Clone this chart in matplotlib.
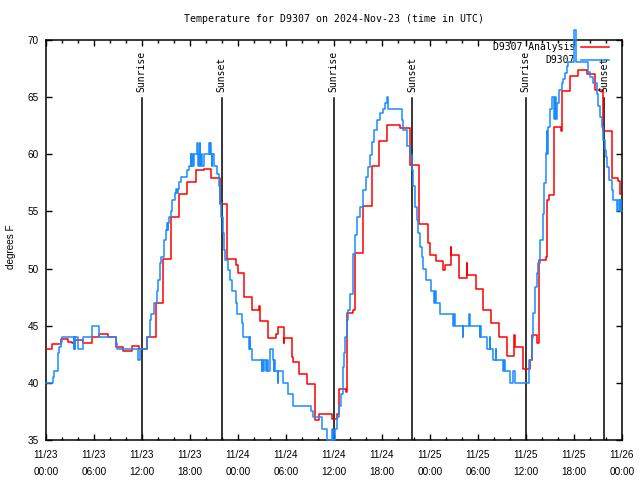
import numpy as np
import matplotlib
matplotlib.use("Agg")
import matplotlib.pyplot as plt

# ---- data (hours since 2024-11-23 00:00 UTC) ----
red_t = [0, 0.75, 1.83, 2.8, 3.3, 3.55, 4.67, 5.71, 6.63, 7.79, 8.75, 9.67, 10.7, 11.6,
         12.67, 13.7, 13.8, 14.67, 15.67, 16.67, 17.67, 18.75, 19.75, 20.58, 21.7, 22.67,
         23.7, 24.04, 24.75, 25.7, 25.8, 26.6, 26.75, 27.7, 28.75, 29.0, 29.7, 29.8, 30.75,
         30.85, 31.6, 32.6, 33.6, 34.17, 35.7, 36.33, 36.6, 37.5, 37.58, 38.4, 38.625, 39.67,
         40.7, 41.67, 42.6, 44.25, 45.5, 46.67, 47.75, 47.95, 48.75, 49.67, 49.875, 50.58,
         50.65, 51.67, 52.58, 52.65, 53.75, 54.58, 55.67, 56.67, 57.58, 58.55, 58.62, 59.58,
         60.5, 60.7, 61.4, 61.67, 62.5, 62.67, 62.9, 63.54, 64.4, 64.54, 65.5, 66.5, 67.6,
         68.6, 69.6, 70.7, 71.5, 71.75]
red_v = [43.0, 43.4, 43.8, 43.6, 43.5, 43.75, 43.5, 44.0, 44.3, 44.0, 43.1, 42.8, 43.2, 43.0,
         44.0, 45.5, 47.0, 50.8, 54.5, 56.5, 57.6, 58.6, 58.7, 57.9, 55.65, 50.8,
         50.3, 49.6, 47.55, 46.7, 46.4, 46.7, 45.4, 43.9, 44.3, 44.9, 43.5, 43.9, 42.3,
         41.85, 40.8, 39.9, 36.75, 37.3, 36.8, 37.3, 39.5, 39.2, 46.1, 46.4, 51.4, 55.5,
         59.0, 61.2, 62.6, 62.3, 59.1, 53.9, 52.2, 51.2, 50.7, 49.9, 50.3, 51.9,
         51.2, 49.2, 50.5, 49.4, 48.2, 46.4, 45.2, 44.0, 42.35, 44.2, 43.1, 41.2,
         42.0, 44.2, 43.5, 50.75, 51.0, 56.0, 56.4, 62.4, 62.0, 65.5, 66.85, 67.4, 67.0,
         65.6, 62.0, 57.9, 57.7, 56.5]

blue_t = [0, 0.92, 1.04, 1.54, 1.67, 1.83, 1.96, 3.46, 3.52, 3.58, 3.67, 4.04, 4.58, 5.79,
          6.625, 8.75, 8.92, 11.46, 11.75, 12.58, 13.0, 13.05, 13.17, 13.5, 13.83, 14.04,
          14.25, 14.42, 14.75, 14.96, 15.17, 15.25, 15.3, 15.42, 15.625, 15.79, 16.08, 16.29,
          16.4, 16.45, 16.625, 16.83, 17.67, 17.875, 18.08, 18.15, 18.25, 18.35, 18.5, 18.9,
          18.95, 19.0, 19.1, 19.2, 19.25, 19.33, 19.5, 19.75, 20.375, 20.45, 20.55, 20.6,
          20.7, 20.8, 21.0, 21.4, 21.625, 21.75, 21.83, 22.08, 22.25, 22.42, 22.79, 23.0,
          23.2, 23.71, 23.92, 24.46, 24.67, 25.375, 25.5, 25.55, 25.79, 26.96, 27.05, 27.15,
          27.3, 27.5, 27.6, 27.7, 28.0, 28.33, 28.45, 28.55, 28.65, 29.0, 29.05, 29.58,
          30.29, 30.83, 33.125, 33.42, 34.46, 35.17, 35.7, 35.85, 36.125, 36.42, 36.67,
          36.83, 37.1, 37.25, 37.375, 37.58, 37.8, 38.0, 38.42, 38.625, 38.83, 39.25, 39.67,
          39.96, 40.29, 40.5, 40.79, 41.0, 41.42, 41.75, 42.08, 42.375, 42.58, 42.79, 44.46,
          44.67, 45.17, 45.5, 45.7, 45.92, 46.125, 46.33, 46.54, 46.75, 46.96, 47.17, 47.5,
          48.125, 48.5, 48.6, 48.7, 49.25, 50.9, 51.0, 51.125, 52.08, 52.12, 52.9, 52.95,
          54.25, 54.3, 54.4, 55.08, 55.5, 55.55, 55.92, 56.2, 56.25, 57.08, 57.3, 57.35,
          58.0, 58.33, 58.625, 60.42, 60.7, 60.92, 61.125, 61.33, 61.54, 61.75, 62.08,
          62.29, 62.5, 62.6, 62.65, 62.79, 63.0, 63.29, 63.54, 63.6, 63.7, 63.83, 64.17,
          64.46, 64.67, 64.875, 65.08, 65.29, 66.0, 66.25, 67.79, 68.0, 68.42, 68.83, 69.04,
          69.25, 69.46, 69.67, 69.875, 70.0, 70.17, 70.42, 70.71, 70.92, 71.33, 71.54, 71.7,
          71.8, 71.9]
blue_v = [40, 40.5, 41, 42.6, 43.1, 43.6, 44, 43, 44, 43, 44, 43, 44, 45,
          44, 43.5, 43, 42, 43, 44, 45, 45.5, 46, 47, 48, 49,
          50.5, 51, 52.5, 53.4, 54, 53.4, 54, 54.5, 55, 56, 56.6, 57,
          56.6, 57, 57.6, 58, 58.6, 59, 60, 59, 60, 59, 60, 61,
          60, 59, 60, 61, 59, 60, 59, 60, 61, 60, 61, 60,
          59, 60, 59, 58.3, 57.2, 55.7, 54.5, 53.1, 51.6, 50.75, 49.9, 49.0,
          48.0, 47.0, 46.0, 45.2, 44.0, 43.0, 44, 43, 42.0, 41.0, 42, 41,
          42, 41, 42, 41, 43, 42, 41, 42, 41, 40, 41, 40,
          39, 38, 37.5, 37, 36, 35, 36, 35, 36, 37, 38,
          39, 41.4, 42.6, 44, 45.5, 46.4, 47.8, 51.3, 52.9, 54.5, 55.4, 56.9,
          58, 58.9, 59.9, 61.1, 62.1, 63.0, 63.6, 64.0, 64.5, 65.0, 64.0, 63,
          62.1, 60.7, 59.9, 58.6, 57.2, 55.4, 54.25, 53.1, 51.9, 51.0, 50.0, 49.0,
          48, 47, 48, 47, 46, 45, 46, 45, 44, 45, 46, 45,
          44, 45, 44, 43, 44, 43, 42, 43, 42, 41, 42, 41,
          40, 41, 40, 42, 43.9, 46.1, 48.4, 49.6, 50.5, 52.5, 54.8,
          57.5, 60.1, 62, 60, 62.4, 64.0, 65.0, 63.1, 65, 63.1, 64.5, 65.6,
          66.2, 66.6, 67.1, 67.7, 68.1, 70.9, 68.1, 67.2, 66.8, 66.2, 65.3, 64.2,
          63.3, 62.4, 61.25, 60.4, 59.8, 58.9, 57.75, 56.9, 56.0, 55.0, 56, 55,
          56, 55]

sun_labels = ["Sunrise", "Sunset", "Sunrise", "Sunset", "Sunrise", "Sunset"]
sun_times = [11.95, 21.95, 35.95, 45.8, 59.95, 69.8]

xtick_hours = list(range(0, 73, 6))
xtick_labels = ["11/23\n00:00", "11/23\n06:00", "11/23\n12:00", "11/23\n18:00",
                "11/24\n00:00", "11/24\n06:00", "11/24\n12:00", "11/24\n18:00",
                "11/25\n00:00", "11/25\n06:00", "11/25\n12:00", "11/25\n18:00",
                "11/26\n00:00"]
yticks = [35, 40, 45, 50, 55, 60, 65, 70]

title = "Temperature for D9307 on 2024-Nov-23 (time in UTC)"
ylabel = "degrees F"
labels = ["D9307 Analysis", "D9307"]

# ---- drawing ----
mono = "DejaVu Sans Mono"
sans = "Liberation Sans"
END = 72

fig = plt.figure(figsize=(6.4, 4.8), dpi=100)
ax = fig.add_axes([46/640, 40/480, 576/640, 400/480])

rt = np.array(red_t + [END]); rv = np.array(red_v + [red_v[-1]])
bt = np.array(blue_t + [END]); bv = np.array(blue_v + [blue_v[-1]])

lr, = ax.plot(rt, rv, drawstyle="steps-post", color="#ff0000", lw=1.1, zorder=3,
              label=labels[0])
lb, = ax.plot(bt, bv, drawstyle="steps-post", color="#1a8cff", lw=1.1, zorder=4,
              label=labels[1], clip_on=False)

for name, t in zip(sun_labels, sun_times):
    ax.axvline(t, ymin=0, ymax=0.855, color="black", lw=1.1, zorder=2)
    ax.text(t, 0.87, name, transform=ax.get_xaxis_transform(), rotation=90,
            ha="center", va="bottom", fontsize=7, family=mono)

ax.set_xlim(0, END)
ax.set_ylim(35, 70)
ax.set_xticks(xtick_hours)
ax.set_xticklabels(xtick_labels, family=sans, fontsize=7.2, linespacing=1.85)
ax.set_xticks(np.arange(0, END + 1, 2), minor=True)
ax.set_yticks(yticks)
ax.set_yticklabels([str(v) for v in yticks], family=sans, fontsize=7.2)
ax.tick_params(which="both", direction="in", top=True, right=True, width=1)
ax.tick_params(which="major", length=4)
ax.tick_params(which="minor", length=2)
ax.tick_params(axis="x", pad=7.5)
ax.tick_params(axis="y", pad=5)
for s in ax.spines.values():
    s.set_linewidth(1.1)

leg = ax.legend(handles=[lr, lb], loc="upper right", bbox_to_anchor=(0.9774, 0.995),
                frameon=False, markerfirst=False, prop={"family": mono, "size": 7},
                handlelength=2.9, handletextpad=0.6, labelspacing=0.3,
                borderpad=0, borderaxespad=0)
leg.set_zorder(1)

fig.text(334/640, 1 - 19/480, title, ha="center", va="center", fontsize=7.15, family=mono)
fig.text(11/640, 1 - 247/480, ylabel, ha="center", va="center", rotation=90,
         fontsize=7.2, family=sans)

fig.savefig("out.png", dpi=100)
